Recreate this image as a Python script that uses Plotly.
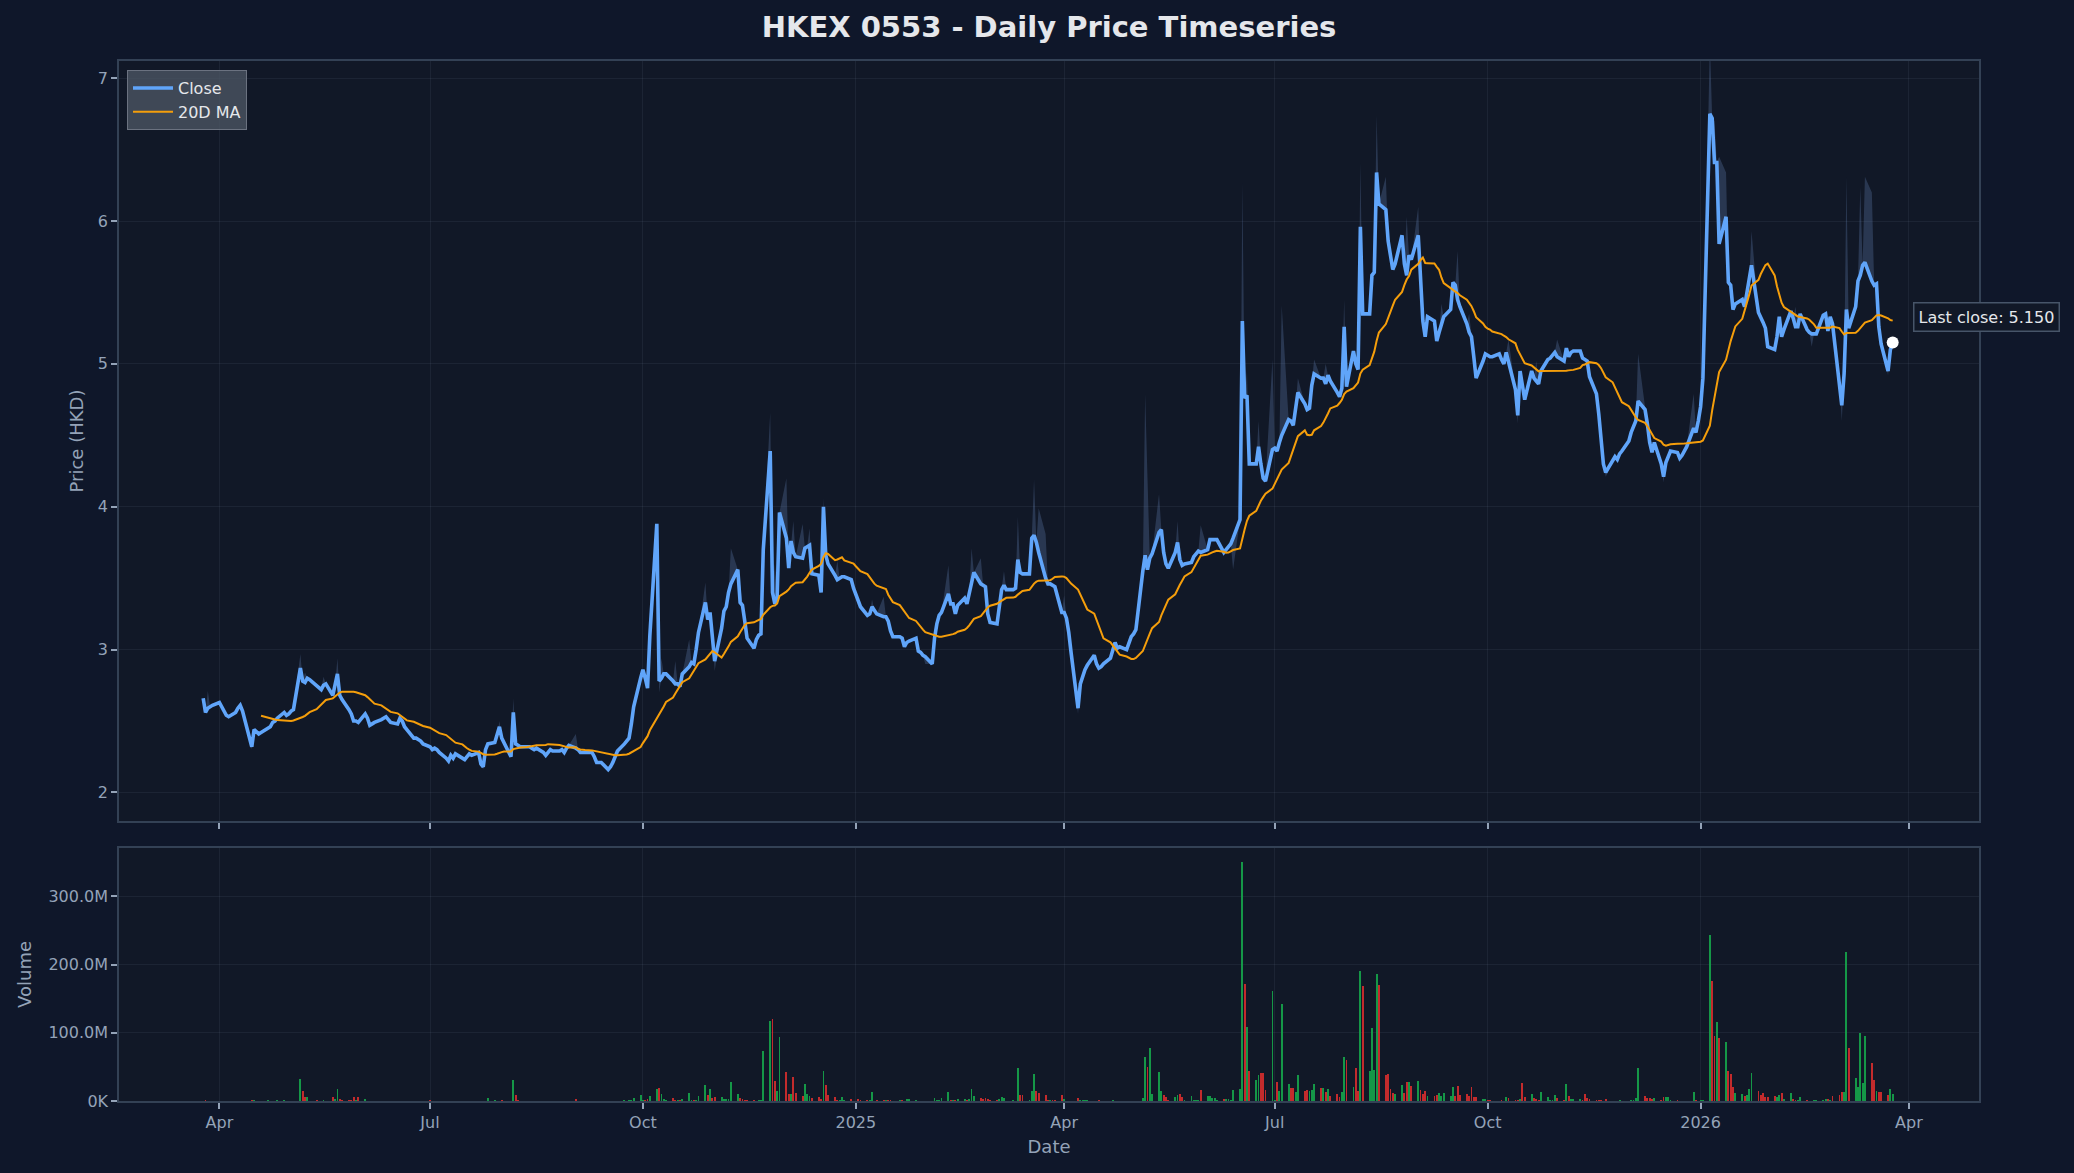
import pandas as pd
import plotly.graph_objects as go

# ---------------- data ----------------
START = "2024-03-25"  # first trading day shown (Monday)

# daily closes, one row per week (Mon..Fri)
close_weeks = [
    [2.66, 2.56, 2.59, 2.60, 2.61], [2.63, 2.60, 2.56, 2.54, 2.53], [2.56, 2.59, 2.61, 2.57, 2.51],
    [2.32, 2.44, 2.42, 2.41, 2.42], [2.45, 2.46, 2.49, 2.50, 2.52], [2.56, 2.54, 2.55, 2.57, 2.58],
    [2.87, 2.78, 2.77, 2.80, 2.79], [2.75, 2.73, 2.72, 2.75, 2.76], [2.68, 2.75, 2.83, 2.68, 2.65],
    [2.58, 2.55, 2.50, 2.50, 2.49], [2.55, 2.52, 2.47, 2.48, 2.49], [2.51, 2.52, 2.53, 2.51, 2.49],
    [2.48, 2.52, 2.50, 2.46, 2.44], [2.38, 2.38, 2.37, 2.36, 2.34], [2.32, 2.30, 2.31, 2.30, 2.28],
    [2.24, 2.22, 2.26, 2.24, 2.27], [2.24, 2.23, 2.25, 2.27, 2.26], [2.28, 2.20, 2.18, 2.30, 2.34],
    [2.35, 2.40, 2.46, 2.38, 2.35], [2.25, 2.56, 2.34, 2.33, 2.32], [2.32, 2.32, 2.31, 2.30, 2.31],
    [2.28, 2.26, 2.28, 2.30, 2.29], [2.29, 2.30, 2.28, 2.31, 2.33], [2.31, 2.30, 2.28, 2.28, 2.28],
    [2.28, 2.25, 2.21, 2.21, 2.21], [2.16, 2.18, 2.21, 2.25, 2.29], [2.34, 2.36, 2.38, 2.48, 2.60],
    [2.80, 2.86, 2.80, 2.73, 3.10], [3.88, 2.78, 2.80, 2.83, 2.83], [2.78, 2.76, 2.76, 2.74, 2.83],
    [2.88, 2.91, 2.90, 3.00, 3.12], [3.33, 3.21, 3.26, 3.10, 2.92], [3.15, 3.27, 3.30, 3.40, 3.46],
    [3.56, 3.33, 3.31, 3.20, 3.08], [3.01, 3.07, 3.10, 3.11, 3.70], [4.39, 3.40, 3.32, 3.37, 3.96],
    [3.78, 3.57, 3.76, 3.68, 3.65], [3.64, 3.71, 3.72, 3.73, 3.53], [3.52, 3.40, 4.00, 3.66, 3.60],
    [3.52, 3.49, 3.50, 3.51, 3.51], [3.49, 3.43, 3.38, 3.33, 3.30], [3.24, 3.25, 3.30, 3.27, 3.25],
    [3.23, 3.23, 3.20, 3.13, 3.09], [3.09, 3.08, 3.02, 3.05, 3.06], [3.08, 2.99, 2.98, 2.96, 2.95],
    [2.90, 3.08, 3.18, 3.24, 3.26], [3.39, 3.32, 3.32, 3.25, 3.31], [3.36, 3.32, 3.40, 3.48, 3.54],
    [3.46, 3.45, 3.44, 3.25, 3.19], [3.18, 3.30, 3.42, 3.45, 3.42], [3.42, 3.43, 3.63, 3.54, 3.53],
    [3.53, 3.78, 3.80, 3.75, 3.68], [3.50, 3.46, 3.46, 3.45, 3.44], [3.26, 3.26, 3.22, 3.12, 2.98],
    [2.59, 2.76, 2.82, 2.86, 2.89], [2.96, 2.90, 2.87, 2.88, 2.90], [2.94, 3.00, 3.05, 3.01, 3.02],
    [3.00, 3.05, 3.09, 3.11, 3.14], [3.55, 3.66, 3.56, 3.64, 3.67], [3.82, 3.84, 3.68, 3.60, 3.57],
    [3.68, 3.75, 3.63, 3.59, 3.60], [3.61, 3.65, 3.67, 3.69, 3.68], [3.70, 3.77, 3.77, 3.77, 3.77],
    [3.68, 3.70, 3.71, 3.74, 3.78], [3.91, 5.30, 4.76, 4.78, 4.30], [4.30, 4.42, 4.30, 4.20, 4.18],
    [4.40, 4.41, 4.39, 4.45, 4.50], [4.61, 4.60, 4.57, 4.70, 4.80], [4.72, 4.68, 4.69, 4.85, 4.93],
    [4.90, 4.90, 4.86, 4.92, 4.88], [4.80, 4.77, 4.83, 5.26, 4.84], [5.09, 5.00, 4.96, 5.96, 5.35],
    [5.35, 5.62, 5.64, 6.34, 6.12], [6.08, 5.86, 5.75, 5.66, 5.70], [5.90, 5.70, 5.62, 5.76, 5.73],
    [5.90, 5.55, 5.30, 5.19, 5.33], [5.30, 5.16, 5.22, 5.27, 5.33], [5.38, 5.57, 5.55, 5.45, 5.40],
    [5.28, 5.22, 5.19, 5.05, 4.90], [5.02, 5.07, 5.06, 5.05, 5.05], [5.07, 5.03, 5.00, 5.08, 5.02],
    [4.82, 4.64, 4.95, 4.85, 4.75], [4.95, 4.90, 4.88, 4.86, 4.95], [5.03, 5.04, 5.06, 5.08, 5.05],
    [5.02, 5.11, 5.05, 5.08, 5.09], [5.09, 5.04, 5.03, 5.02, 4.91], [4.79, 4.65, 4.45, 4.30, 4.24],
    [4.32, 4.35, 4.33, 4.37, 4.39], [4.46, 4.52, 4.56, 4.60, 4.74], [4.68, 4.58, 4.45, 4.38, 4.45],
    [4.30, 4.21, 4.31, 4.36, 4.39], [4.38, 4.34, 4.36, 4.39, 4.42], [4.55, 4.52, 4.60, 4.70, 4.90],
    [6.75, 6.72, 6.41, 6.41, 5.84], [6.03, 5.57, 5.55, 5.38, 5.42], [5.45, 5.40, 5.50, 5.57, 5.69],
    [5.36, 5.33, 5.29, 5.25, 5.12], [5.10, 5.19, 5.33, 5.19, 5.24], [5.37, 5.32, 5.26, 5.26, 5.35],
    [5.24, 5.22, 5.21, 5.21, 5.21], [5.34, 5.35, 5.23, 5.33, 5.28], [4.88, 4.71, 4.93, 5.38, 5.25],
    [5.40, 5.58, 5.62, 5.69, 5.71], [5.58, 5.55, 5.56, 5.26, 5.14], [4.95, 5.10, 5.15],
]

# daily volume in millions of shares, one row per week
volume_weeks_m = [
    [0.5, 1.5, 0.5, 0.3, 0.3], [0.3, 0.3, 0.5, 0.3, 0.3], [0.3, 0.3, 0.3, 0.5, 0.3],
    [1.5, 1.0, 0.5, 0.3, 0.3], [1.5, 0.5, 0.3, 0.3, 1.5], [1.5, 0.3, 0.3, 0.3, 0.3],
    [32, 15, 6, 6, 0.5], [1.5, 0.5, 0.5, 1.0, 0.3], [6, 3, 18, 3, 1],
    [1, 1, 6, 1, 6], [3, 0.5, 0.5, 0.3, 0.3], [0.3, 0.3, 0.3, 0.3, 0.3],
    [0.3, 0.3, 0.5, 0.3, 0.3], [0.3, 0.3, 0.3, 0.3, 0.3], [1.5, 0.3, 0.3, 0.3, 0.3],
    [0.3, 0.5, 0.3, 0.3, 0.3], [0.3, 0.3, 0.3, 0.3, 0.3], [0.3, 0.5, 0.3, 0.5, 4],
    [2, 0.5, 0.5, 2, 0.5], [0.5, 31, 9, 1, 0.3], [0.3, 0.3, 0.3, 0.3, 0.3],
    [0.3, 0.3, 0.3, 0.3, 0.3], [0.3, 0.3, 0.3, 0.3, 0.3], [3, 0.3, 0.3, 0.3, 0.3],
    [0.3, 0.3, 0.5, 0.3, 0.3], [0.3, 0.3, 0.3, 0.5, 0.5], [1, 0.5, 1, 2, 4],
    [9, 2, 1, 3, 7], [18, 19, 10, 3, 1], [4, 2, 1, 1, 3],
    [12, 1, 1, 1, 7], [23, 9, 18, 4, 6], [6, 3, 3, 3, 28],
    [10, 4, 3, 2, 1], [1, 0.5, 1, 1, 73], [117, 121, 29, 15, 94],
    [42, 10, 10, 35, 12], [7, 25, 10, 7, 4], [6, 3, 44, 23, 9],
    [6, 1, 1, 6, 1], [3, 0.5, 0.5, 3, 1], [1, 2, 13, 0.5, 2],
    [2, 1, 1, 1, 0.5], [1, 1, 0.5, 3, 3], [1, 0.3, 0.3, 0.3, 0.3],
    [0.5, 4, 2, 2, 4], [13, 1, 1, 1, 3], [3, 1, 3, 18, 7],
    [4, 3, 4, 3, 1], [1, 3, 6, 4, 0.5], [1, 0.5, 48, 9, 9],
    [1, 15, 40, 15, 12], [9, 1, 1, 1, 1], [9, 3, 0.5, 0.5, 0.5],
    [4, 1, 2, 1, 1], [0.5, 0.5, 1, 0.3, 0.3], [0.5, 1, 0.5, 0.3, 0.3],
    [0.3, 0.5, 0.3, 0.3, 0.3], [5, 64, 50, 78, 10], [42, 15, 9, 6, 1],
    [6, 9, 10, 6, 1], [7, 2, 2, 2, 16], [7, 7, 4, 4, 1],
    [3, 3, 3, 1, 16], [18, 351, 171, 108, 44], [31, 38, 41, 41, 16],
    [162, 2, 28, 15, 142], [25, 19, 19, 13, 38], [15, 16, 15, 16, 25],
    [19, 19, 13, 18, 7], [10, 6, 13, 64, 60], [21, 48, 15, 190, 168],
    [44, 107, 45, 186, 170], [38, 40, 18, 12, 10], [23, 12, 28, 28, 22],
    [29, 16, 10, 15, 7], [7, 9, 12, 7, 12], [7, 21, 7, 22, 9],
    [10, 7, 21, 6, 6], [3, 3, 1, 1, 0.5], [0.5, 1, 0.5, 6, 4],
    [1, 2, 3, 26, 6], [10, 4, 3, 1, 13], [6, 1, 1, 9, 4],
    [1, 25, 7, 3, 3], [3, 1, 10, 4, 3], [1, 1, 1, 0.5, 3],
    [0.5, 0.5, 0.5, 1, 0.5], [0.5, 1, 1, 4, 48], [7, 4, 4, 3, 4],
    [1, 6, 6, 6, 1], [1, 0.5, 0.5, 0.5, 0.5], [13, 1, 0.5, 1, 1],
    [243, 176, 95, 116, 92], [86, 44, 40, 21, 12], [10, 7, 9, 18, 41],
    [15, 9, 12, 6, 6], [7, 6, 9, 12, 3], [12, 3, 1, 2, 6],
    [1, 0.5, 0.5, 1, 1], [1, 3, 3, 1, 7], [9, 13, 13, 218, 78],
    [34, 21, 100, 26, 95], [56, 31, 15, 13, 13], [9, 18, 10],
]

# intraday highs / lows that stand out from the close: (week, weekday, price)
high_spikes = [
    (0, 2, 2.71), (6, 0, 2.97), (6, 2, 2.84), (7, 3, 2.81), (8, 2, 2.94), (18, 2, 2.50),
    (19, 1, 2.66), (23, 0, 2.41), (28, 2, 2.94), (29, 1, 2.92), (30, 0, 3.07), (31, 0, 3.47),
    (32, 4, 3.71), (33, 1, 3.45), (35, 0, 4.66), (35, 2, 3.60), (36, 0, 4.20), (36, 3, 3.90),
    (37, 0, 3.88), (37, 3, 3.85), (38, 2, 4.06), (39, 1, 3.62), (41, 2, 3.35), (42, 0, 3.37),
    (46, 0, 3.59), (47, 3, 3.71), (48, 0, 3.64), (49, 3, 3.55), (50, 2, 3.93), (51, 2, 4.19),
    (51, 4, 3.99), (52, 0, 3.81), (53, 1, 3.38), (58, 1, 4.79), (58, 2, 4.21), (59, 0, 4.09),
    (60, 1, 3.90), (61, 4, 3.87), (64, 1, 6.27), (64, 3, 4.95), (65, 1, 4.60), (66, 0, 5.03),
    (66, 4, 5.41), (67, 4, 4.90), (68, 4, 5.03), (69, 2, 5.00), (70, 3, 5.45), (71, 3, 6.41),
    (72, 3, 6.74), (73, 0, 6.31), (74, 2, 6.03), (75, 0, 6.10), (76, 3, 5.42), (77, 3, 5.79),
    (78, 1, 5.35), (80, 4, 5.17), (82, 2, 5.02), (83, 4, 5.17), (88, 4, 5.07), (92, 0, 4.79),
    (93, 0, 7.25), (93, 2, 6.70), (93, 4, 6.45), (94, 0, 6.34), (95, 4, 5.93), (98, 2, 5.40),
    (101, 3, 6.31), (102, 2, 6.24), (102, 4, 6.31), (103, 0, 6.20),
]
low_dips = [
    (3, 0, 2.30), (17, 2, 2.16), (25, 0, 2.14), (28, 1, 2.70), (31, 4, 2.85), (44, 4, 2.90),
    (54, 0, 2.55), (63, 4, 3.56), (81, 1, 4.58), (86, 4, 4.21), (90, 1, 4.17), (99, 2, 5.12),
    (101, 1, 4.60), (104, 0, 4.92),
]

x_tick_dates = ["2024-04-01", "2024-07-01", "2024-10-01", "2025-01-01", "2025-04-01",
                "2025-07-01", "2025-10-01", "2026-01-01", "2026-04-01"]
x_tick_text = ["Apr", "Jul", "Oct", "2025", "Apr", "Jul", "Oct", "2026", "Apr"]
price_ticks = [2, 3, 4, 5, 6, 7]
vol_ticks = [0, 100e6, 200e6, 300e6]
vol_tick_text = ["0K", "100.0M", "200.0M", "300.0M"]

# ---------------- assemble ----------------
close = [v for wk in close_weeks for v in wk]
volume = [v * 1e6 for wk in volume_weeks_m for v in wk]
dates = pd.bdate_range(START, periods=len(close))

high = list(close)
low = list(close)
for w, d, v in high_spikes:
    high[5 * w + d] = v
for w, d, v in low_dips:
    low[5 * w + d] = v

ma20 = pd.Series(close).rolling(20).mean()

GREEN = "rgba(22,163,74,0.92)"
RED = "rgba(220,45,45,0.88)"
bar_colors = [GREEN] + [GREEN if close[i] >= close[i - 1] else RED for i in range(1, len(close))]

FONT = "DejaVu Sans"
TICK_C = "#94a3b8"
LINE_C = "#334155"
GRID_C = "rgba(148,163,184,0.09)"

fig = go.Figure()
fig.add_trace(go.Scatter(x=dates, y=low, mode="lines", line=dict(width=0), showlegend=False,
                         hoverinfo="skip", xaxis="x", yaxis="y"))
fig.add_trace(go.Scatter(x=dates, y=high, mode="lines", line=dict(width=0), fill="tonexty",
                         fillcolor="rgba(100,130,180,0.30)", showlegend=False, hoverinfo="skip",
                         xaxis="x", yaxis="y"))
fig.add_trace(go.Scatter(x=dates, y=close, mode="lines", name="Close",
                         line=dict(color="#60a5fa", width=3.6), xaxis="x", yaxis="y"))
fig.add_trace(go.Scatter(x=dates, y=ma20, mode="lines", name="20D MA",
                         line=dict(color="#f59e0b", width=2), xaxis="x", yaxis="y"))
fig.add_trace(go.Scatter(x=[dates[-1]], y=[close[-1]], mode="markers", showlegend=False,
                         marker=dict(color="white", size=12), xaxis="x", yaxis="y"))
fig.add_trace(go.Bar(x=dates, y=volume, marker=dict(color=bar_colors, line=dict(width=0)),
                     width=0.8 * 86400000, showlegend=False, xaxis="x2", yaxis="y2"))

fig.add_annotation(x=dates[-1], y=close[-1], xref="x", yref="y",
                   text=f"Last close: {close[-1]:.3f}", showarrow=False,
                   xanchor="left", yanchor="middle", xshift=20, yshift=25,
                   font=dict(family=FONT, size=16, color="#e5e7eb"),
                   bgcolor="#111827", bordercolor="#475569", borderwidth=1.5, borderpad=4)

x_range = ["2024-02-17 15:00", "2026-05-01 07:00"]
common_x = dict(range=x_range, tickvals=x_tick_dates, ticktext=x_tick_text,
                showgrid=True, gridcolor=GRID_C, gridwidth=1, showline=True, mirror=True,
                linecolor=LINE_C, linewidth=1.5, ticks="outside", ticklen=6, tickwidth=1.5,
                tickcolor=TICK_C, tickfont=dict(family=FONT, size=16, color=TICK_C), zeroline=False)
common_y = dict(showgrid=True, gridcolor=GRID_C, gridwidth=1, showline=True, mirror=True,
                linecolor=LINE_C, linewidth=1.5, ticks="outside", ticklen=6, tickwidth=1.5,
                tickcolor=TICK_C, tickfont=dict(family=FONT, size=16, color=TICK_C), zeroline=False)

fig.update_layout(
    width=2074, height=1173,
    paper_bgcolor="#0f172a", plot_bgcolor="#111827",
    margin=dict(l=119, r=95, t=61, b=72),
    font=dict(family=FONT, color=TICK_C),
    title=dict(text="<b>HKEX 0553 - Daily Price Timeseries</b>", x=0.5, xref="paper",
               xanchor="center", y=1 - 27 / 1173, yref="container", yanchor="middle",
               font=dict(family=FONT, size=29, color="#e5e7eb")),
    xaxis=dict(domain=[0, 1], anchor="y", showticklabels=False, matches="x2", **common_x),
    xaxis2=dict(domain=[0, 1], anchor="y2",
                title=dict(text="Date", standoff=9, font=dict(family=FONT, size=18, color=TICK_C)),
                **common_x),
    yaxis=dict(domain=[0.2692, 1], anchor="x", range=[1.80, 7.12], tickvals=price_ticks,
               title=dict(text="Price (HKD)", standoff=10, font=dict(family=FONT, size=18, color=TICK_C)),
               **common_y),
    yaxis2=dict(domain=[0, 0.2433], anchor="x2", range=[0, 371e6], tickvals=vol_ticks,
                ticktext=vol_tick_text,
                title=dict(text="Volume", standoff=12, font=dict(family=FONT, size=18, color=TICK_C)),
                **common_y),
    legend=dict(x=0.0043, y=0.9913, xanchor="left", yanchor="top", traceorder="normal",
                itemwidth=40, bgcolor="rgba(75,85,99,0.8)", bordercolor="#6b7280", borderwidth=1,
                font=dict(family=FONT, size=16, color="#e5e7eb")),
    showlegend=True,
    bargap=0,
)

fig.write_html("out.html", config={"displayModeBar": False})
